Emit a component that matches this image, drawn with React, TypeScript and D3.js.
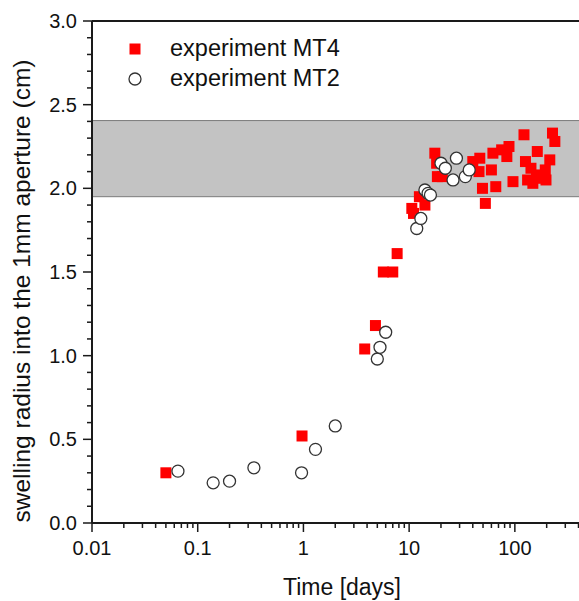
import React from "react";
import * as d3 from "d3";

// ---- data ----
const mt4Time = [0.05, 0.97, 3.8, 4.8, 5.7, 7.0, 7.7, 10.6, 11.0, 12.5, 14.1, 17.5, 18.2, 18.5, 20.6, 40, 46.6, 45.8, 49.4, 52.6, 60, 62, 66, 75, 88, 84, 96, 122, 126, 132, 142, 148, 163, 160, 180, 197, 194, 214, 227, 239];
const mt4Radius = [0.30, 0.52, 1.04, 1.18, 1.50, 1.50, 1.61, 1.88, 1.85, 1.95, 1.90, 2.21, 2.15, 2.07, 2.07, 2.16, 2.18, 2.10, 2.00, 1.91, 2.11, 2.21, 2.01, 2.23, 2.25, 2.19, 2.04, 2.32, 2.16, 2.05, 2.12, 2.03, 2.22, 2.08, 2.06, 2.05, 2.11, 2.17, 2.33, 2.28];
const mt2Time = [0.065, 0.14, 0.2, 0.34, 0.96, 1.3, 2.0, 5.0, 5.3, 6.0, 11.8, 12.9, 14.1, 15.1, 15.9, 20, 22, 26, 28, 34, 37];
const mt2Radius = [0.31, 0.24, 0.25, 0.33, 0.30, 0.44, 0.58, 0.98, 1.05, 1.14, 1.76, 1.82, 1.99, 1.97, 1.96, 2.15, 2.12, 2.05, 2.18, 2.07, 2.11];
const bandRange = [1.95, 2.405];
const xMajorTicks = [0.01, 0.1, 1, 10, 100];
const xTickLabels = ["0.01", "0.1", "1", "10", "100"];
const yMajorTicks = [0, 0.5, 1, 1.5, 2, 2.5, 3];
const yTickLabels = ["0.0", "0.5", "1.0", "1.5", "2.0", "2.5", "3.0"];
const legendLabels = ["experiment MT4", "experiment MT2"];
const xTitle = "Time [days]";
const yTitle = "swelling radius into the 1mm aperture (cm)";

const W = 579;
const H = 601;
const FONT = "'Liberation Sans', Arial, sans-serif";

export default function App() {
  const x = d3.scaleLog().domain([0.01, 400]).range([92, 578.5]);
  const y = d3.scaleLinear().domain([0, 3]).range([523, 21]);

  const xMinor: number[] = [];
  for (let e = -2; e <= 2; e++) {
    for (let m = 2; m <= 9; m++) {
      const v = m * Math.pow(10, e);
      if (v <= 400) xMinor.push(v);
    }
  }
  const yMinor = d3.range(0, 31).map((i) => i / 10).filter((v) => Math.round(v * 10) % 5 !== 0);

  const axisColor = "#1a1a1a";
  const sq = 11;

  return (
    <svg width={W} height={H} style={{ position: "absolute", left: 0, top: 0, background: "#fff" }} fontFamily={FONT}>
      {/* band */}
      <rect x={x(0.01)} y={y(bandRange[1])} width={W - x(0.01)} height={y(bandRange[0]) - y(bandRange[1])} fill="#c3c3c3" />
      <line x1={x(0.01)} x2={W} y1={y(bandRange[1])} y2={y(bandRange[1])} stroke="#7a7a7a" strokeWidth={1} />
      <line x1={x(0.01)} x2={W} y1={y(bandRange[0])} y2={y(bandRange[0])} stroke="#7a7a7a" strokeWidth={1} />

      {/* axes */}
      <line x1={x(0.01)} x2={W} y1={y(3)} y2={y(3)} stroke={axisColor} strokeWidth={2} />
      <line x1={x(0.01)} x2={W} y1={y(0)} y2={y(0)} stroke={axisColor} strokeWidth={2} />
      <line x1={x(0.01)} x2={x(0.01)} y1={y(0)} y2={y(3)} stroke={axisColor} strokeWidth={2} />

      {xMajorTicks.map((v, i) => (
        <g key={"xM" + i}>
          <line x1={x(v)} x2={x(v)} y1={y(0)} y2={y(0) + 9} stroke={axisColor} strokeWidth={1.5} />
          <text x={x(v)} y={555} textAnchor="middle" fontSize={20} fill="#111">{xTickLabels[i]}</text>
        </g>
      ))}
      {xMinor.map((v, i) => (
        <line key={"xm" + i} x1={x(v)} x2={x(v)} y1={y(0)} y2={y(0) + 5} stroke={axisColor} strokeWidth={1.5} />
      ))}
      {yMajorTicks.map((v, i) => (
        <g key={"yM" + i}>
          <line x1={x(0.01) - 9} x2={x(0.01)} y1={y(v)} y2={y(v)} stroke={axisColor} strokeWidth={1.5} />
          <text x={77} y={y(v) + 7} textAnchor="end" fontSize={20} fill="#111">{yTickLabels[i]}</text>
        </g>
      ))}
      {yMinor.map((v, i) => (
        <line key={"ym" + i} x1={x(0.01) - 5} x2={x(0.01)} y1={y(v)} y2={y(v)} stroke={axisColor} strokeWidth={1.5} />
      ))}

      {/* titles */}
      <text x={342} y={595} textAnchor="middle" fontSize={23} fill="#111">{xTitle}</text>
      <text transform={`translate(30,${291}) rotate(-90)`} textAnchor="middle" fontSize={24.5} fill="#111">{yTitle}</text>

      {/* data */}
      {mt4Time.map((t, i) => (
        <rect key={"s" + i} x={x(t) - sq / 2} y={y(mt4Radius[i]) - sq / 2} width={sq} height={sq} fill="#ff0000" />
      ))}
      {mt2Time.map((t, i) => (
        <circle key={"c" + i} cx={x(t)} cy={y(mt2Radius[i])} r={6} fill="#fff" stroke="#333" strokeWidth={1.3} />
      ))}

      {/* legend */}
      <rect x={135 - sq / 2} y={49 - sq / 2} width={sq} height={sq} fill="#ff0000" />
      <circle cx={135} cy={79} r={6} fill="#fff" stroke="#333" strokeWidth={1.3} />
      <text x={170} y={56} fontSize={23.5} fill="#111">{legendLabels[0]}</text>
      <text x={170} y={86} fontSize={23.5} fill="#111">{legendLabels[1]}</text>
    </svg>
  );
}
